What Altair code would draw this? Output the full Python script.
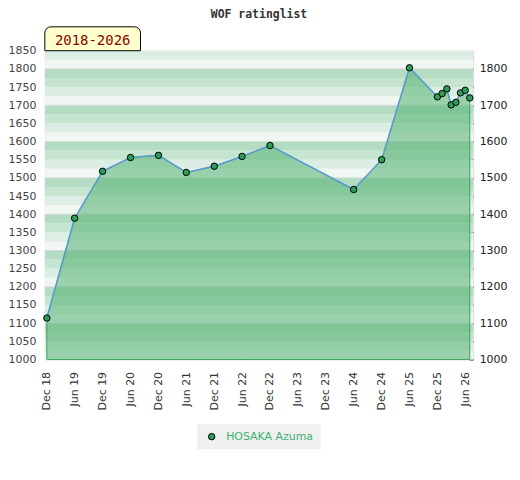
import altair as alt
import pandas as pd

# ---- data ----
dates = ["2018-12-01", "2019-06-01", "2019-12-01", "2020-06-01", "2020-12-01",
         "2021-06-01", "2021-12-01", "2022-06-01", "2022-12-01", "2024-06-01",
         "2024-12-01", "2025-06-01", "2025-12-01", "2026-01-01", "2026-02-01",
         "2026-03-01", "2026-04-01", "2026-05-01", "2026-06-01", "2026-07-01"]
ratings = [1114, 1389, 1518, 1556, 1562, 1515, 1532, 1559, 1589, 1468,
           1550, 1803, 1723, 1732, 1745, 1701, 1708, 1734, 1741, 1720]
player = "HOSAKA Azuma"
period_label = "2018-2026"
chart_title = "WOF ratinglist"

# background bands (rating ranges) and their shade class
band_lows = list(range(1000, 1850, 25))
band_shades = ["d", "c", "b", "a"]  # shade by position within each hundred
grid_values = [1100, 1200, 1300, 1400, 1500, 1600, 1700, 1800]
tick_dates = [(2018, 12), (2019, 6), (2019, 12), (2020, 6), (2020, 12), (2021, 6),
              (2021, 12), (2022, 6), (2022, 12), (2023, 6), (2023, 12), (2024, 6),
              (2024, 12), (2025, 6), (2025, 12), (2026, 6)]
left_values = list(range(1000, 1851, 50))
right_values = list(range(1000, 1801, 50))

df = pd.DataFrame({"date": dates, "rating": ratings, "player": [player] * len(dates)})
bands = pd.DataFrame({
    "low": band_lows,
    "high": [v + 25 for v in band_lows],
    "shade": [band_shades[i % 4] for i in range(len(band_lows))],
})
grid = pd.DataFrame({"y": grid_values})
badge = pd.DataFrame({"label": [period_label]})

W, H = 430, 310
ydom = [1000, 1850]
yscale = alt.Scale(domain=ydom, nice=False, zero=False)
xscale = alt.Scale(type="utc",
                   domain=[alt.DateTime(year=2018, month=11, date=18, utc=True),
                           alt.DateTime(year=2026, month=7, date=23, utc=True)])

x_axis = alt.Axis(values=[alt.DateTime(year=y, month=m, date=1, utc=True) for y, m in tick_dates],
                  labelExpr="utcFormat(datum.value, '%b %y')", labelAngle=270,
                  labelFontSize=11, labelColor="#333333", ticks=False, domain=False,
                  grid=False, labelPadding=12, title=None, labelFont="DejaVu Sans")

left_axis = alt.Axis(values=left_values, format="d", labelFontSize=11, labelColor="#444444",
                     ticks=False, domain=False, grid=False, labelPadding=9,
                     title=None, labelFont="DejaVu Sans")
right_axis = alt.Axis(values=right_values, orient="right", format="d", labelFontSize=11,
                      labelColor="#222222", tickSize=4, tickColor="#333333",
                      offset=-4, labelPadding=6, domain=False, grid=False, title=None,
                      labelExpr="datum.value % 100 == 0 ? format(datum.value, 'd') : ''",
                      labelFont="DejaVu Sans")

stripes = alt.Chart(bands).mark_rect().encode(
    x=alt.value(0), x2=alt.value(W),
    y=alt.Y("low:Q", scale=yscale, axis=left_axis),
    y2="high:Q",
    fill=alt.Fill("shade:N", scale=alt.Scale(domain=["a", "b", "c", "d"],
                  range=["#b3dcc2", "#c6e5d0", "#dcede3", "#f0f7f2"]), legend=None),
)

gridlines = alt.Chart(grid).mark_rule(color="#d6dbd8", strokeWidth=1).encode(
    y=alt.Y("y:Q", scale=yscale, axis=left_axis)
)

area = alt.Chart(df).mark_area(fill="#54b372", fillOpacity=0.55, stroke="#3aa35f",
                               strokeWidth=1).encode(
    x=alt.X("date:T", scale=xscale, axis=x_axis),
    y=alt.Y("rating:Q", scale=yscale, axis=left_axis),
    y2=alt.datum(1000),
)

badge_rect = alt.Chart(badge).mark_rect(fill="#ffffcc", stroke="#000000", strokeWidth=1,
                                        cornerRadiusTopLeft=6, cornerRadiusTopRight=6).encode(
    x=alt.value(0), x2=alt.value(96), y=alt.value(-24), y2=alt.value(0)
)
badge_text = alt.Chart(badge).mark_text(font="DejaVu Sans Mono", fontSize=14,
                                        color="#8b0000", baseline="middle",
                                        align="center").encode(
    x=alt.value(48), y=alt.value(-10), text="label:N"
)

line = alt.Chart(df).mark_line(color="#5b9bd5", strokeWidth=1.5).encode(
    x=alt.X("date:T", scale=xscale, axis=x_axis),
    y=alt.Y("rating:Q", scale=yscale, axis=right_axis),
)

points = alt.Chart(df).mark_point(filled=True, size=42, stroke="#000000", strokeWidth=1,
                                  opacity=1).encode(
    x=alt.X("date:T", scale=xscale, axis=x_axis),
    y=alt.Y("rating:Q", scale=yscale, axis=right_axis),
    color=alt.Color("player:N", scale=alt.Scale(range=["#2e9d5a"]),
                    legend=alt.Legend(title=None, orient="none", legendX=153, legendY=375,
                                      fillColor="#f0f0f0", padding=7, symbolOffset=2,
                                      labelOffset=9, labelColor="#3cb371",
                                      labelFont="DejaVu Sans", labelFontSize=11,
                                      symbolSize=42, symbolStrokeColor="#000000",
                                      symbolStrokeWidth=1, symbolType="circle")),
)

left_group = alt.layer(stripes, gridlines, area, badge_rect, badge_text)
right_group = alt.layer(line, points)

chart = alt.layer(left_group, right_group).resolve_axis(y="independent").resolve_scale(
    y="shared", x="shared"
).properties(
    width=W, height=H,
    padding={"left": 0, "top": 0, "right": 5, "bottom": 5},
    title=alt.Title(chart_title, font="DejaVu Sans Mono", fontSize=11.5, fontWeight="bold",
                    color="#333333", anchor="middle", frame="group", offset=6),
).configure_view(stroke="#cccccc", strokeWidth=1).configure(background="white")

chart.save("out.html", embed_options={"renderer": "svg", "actions": False})
